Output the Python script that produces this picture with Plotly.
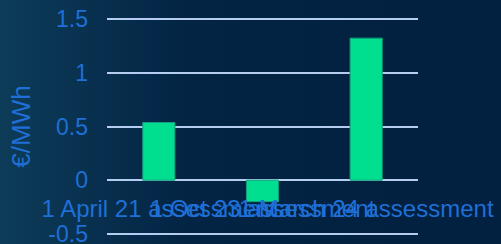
import plotly.graph_objects as go

categories = ["1 April 21 assessment", "1 Oct 23 assessment", "1 March 24 assessment"]
values = [0.537, -0.2, 1.323]
y_ticks = [-0.5, 0, 0.5, 1, 1.5]
y_ticklabels = ["-0.5", "0", "0.5", "1", "1.5"]

Y_MIN, Y_MAX = -0.52, 1.52
M_L, M_R, M_T, M_B = 107, 83, 17, 8
PW = 501 - M_L - M_R
PH = 244 - M_T - M_B

bg_svg = (
    "data:image/svg+xml;utf8,"
    "<svg xmlns='http://www.w3.org/2000/svg' width='501' height='244'>"
    "<defs><linearGradient id='g' x1='0' y1='0' x2='1' y2='0'>"
    "<stop offset='0' stop-color='%230d3c58'/>"
    "<stop offset='0.38' stop-color='%23032444'/>"
    "<stop offset='1' stop-color='%23022040'/>"
    "</linearGradient></defs>"
    "<rect width='501' height='244' fill='url(%23g)'/></svg>"
)

fig = go.Figure()
fig.add_trace(go.Bar(
    x=categories, y=values,
    marker=dict(color="#00DF90", line=dict(color="#139e7c", width=1)),
    width=0.31,
))

tick_color = "#1f6fd6"
fig.update_layout(
    width=501, height=244,
    margin=dict(l=M_L, r=M_R, t=M_T, b=M_B),
    paper_bgcolor="#022040",
    plot_bgcolor="rgba(0,0,0,0)",
    showlegend=False,
    font=dict(family="Liberation Sans, Arial, sans-serif", color=tick_color),
    images=[dict(source=bg_svg, xref="paper", yref="paper", x=-M_L / PW, y=1 + M_T / PH,
                 sizex=501 / PW, sizey=244 / PH, xanchor="left", yanchor="top",
                 sizing="stretch", layer="below")],
    xaxis=dict(
        type="category", anchor="free", position=(0 - Y_MIN) / (Y_MAX - Y_MIN),
        showgrid=False, showline=False, zeroline=False, automargin=False,
        tickangle=0, ticks="", ticklabelstandoff=12,
        ticklabeloverflow="allow",
        tickfont=dict(size=24, color=tick_color),
    ),
    yaxis=dict(
        range=[Y_MIN, Y_MAX], automargin=False,
        tickvals=y_ticks, ticktext=y_ticklabels,
        showgrid=True, gridcolor="#b4cdf0", gridwidth=2,
        zeroline=False, showline=False,
        ticks="", ticklabelstandoff=18, ticklabeloverflow="allow",
        tickfont=dict(size=23, color=tick_color),
        title=dict(text="€/MWh", font=dict(size=26, color=tick_color), standoff=10),
    ),
)

fig.write_html(
    "out.html",
    config={"displayModeBar": False},
    post_script="document.body.style.margin='0';document.body.style.overflow='hidden';",
)
